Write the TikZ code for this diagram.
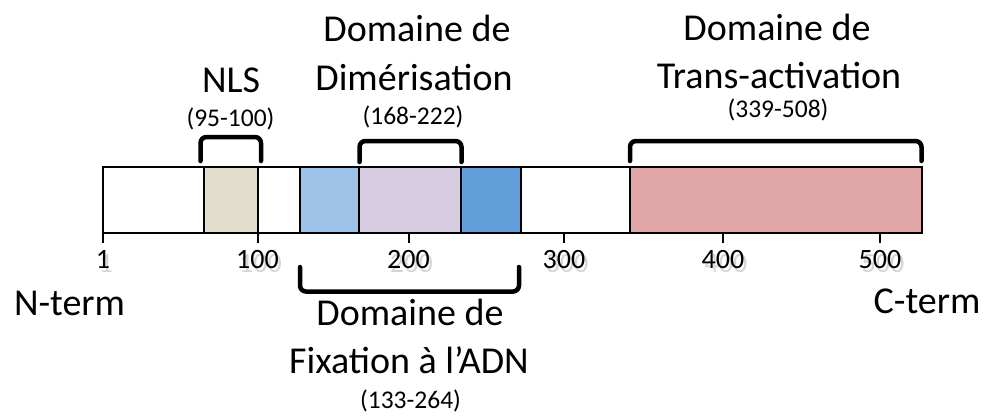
\documentclass[tikz,border=0pt]{standalone}
\usepackage{fontspec}
\setmainfont{Carlito}
\begin{document}
\begin{tikzpicture}[x=1pt,y=-1pt,
  bigtxt/.style={font=\fontsize{38}{46}\selectfont, anchor=base, inner sep=0pt},
  rangetxt/.style={font=\fontsize{25.5}{30}\selectfont, anchor=base, inner sep=0pt},
  ticktxt/.style={font=\fontsize{28}{32}\selectfont, anchor=base, inner sep=0pt},
  tickshade/.style={ticktxt, text=black, opacity=0.16},
  seg/.style={draw=black, line width=2.3pt},
  tickmark/.style={draw=black, line width=2pt},
  brace/.style={draw=black, line width=4.5pt, rounded corners=6pt, line cap=round}
]
\definecolor{nlsfill}{RGB}{225,223,203}
\definecolor{dnafillA}{RGB}{159,195,232}
\definecolor{dimfill}{RGB}{215,205,227}
\definecolor{dnafillB}{RGB}{99,159,219}
\definecolor{transfill}{RGB}{225,167,167}

\useasboundingbox (0,0) rectangle (990,418);

% protein bar, segment by segment
\path[fill=white]     (103,167) rectangle (204,233);
\path[fill=nlsfill]   (204,167) rectangle (258,233);
\path[fill=white]     (258,167) rectangle (300,233);
\path[fill=dnafillA]  (300,167) rectangle (359,233);
\path[fill=dimfill]   (359,167) rectangle (461,233);
\path[fill=dnafillB]  (461,167) rectangle (521,233);
\path[fill=white]     (521,167) rectangle (630,233);
\path[fill=transfill] (630,167) rectangle (922,233);
\draw[seg] (103,167) rectangle (922,233);
\foreach \xd in {204,258,300,359,461,521,630}
  \draw[seg] (\xd,167) -- (\xd,233);

% scale ticks and labels, each number with a light drop shadow
\foreach \xt/\lab [count=\i] in {103/1,257.5/100,408.5/200,564/300,723/400,880/500}{
  \draw[tickmark] (\xt,233) -- (\xt,243);
  \node[tickshade] (shade\i) at (\xt+3,272) {\lab};
  \node[ticktxt] (tick\i) at (\xt,268) {\lab};
}

% brackets above the bar
\coordinate (nlsA) at (200.5,161); \coordinate (nlsB) at (261,161);
\draw[brace] (nlsA) -- (200.5,137) -- (261,137) -- (nlsB);
\coordinate (dimA) at (359.5,162); \coordinate (dimB) at (461.5,162);
\draw[brace] (dimA) -- (359.5,141) -- (461.5,141) -- (dimB);
\coordinate (trA) at (630,161); \coordinate (trB) at (921.5,161);
\draw[brace] (trA) -- (630,141) -- (921.5,141) -- (trB);
% bracket below the bar
\coordinate (dnaA) at (300,267); \coordinate (dnaB) at (519,267);
\draw[brace] (dnaA) -- (300,291.5) -- (519,291.5) -- (dnaB);

% labels
\node[bigtxt] (nls) at (231,92.5) {NLS};
\node[rangetxt] (nlsr) at (230.5,126) {(95-100)};

\node[bigtxt] (dim1) at (417,41.5) {Domaine de};
\node[bigtxt] (dim2) at (414,90) {Dimérisation};
\node[rangetxt] (dimr) at (413,124) {(168-222)};

\node[bigtxt] (tr1) at (777,40) {Domaine de};
\node[bigtxt] (tr2) at (779,88.5) {Trans-activation};
\node[rangetxt] (trr) at (778,117) {(339-508)};

\node[bigtxt] (dna1) at (410,325) {Domaine de};
\node[bigtxt] (dna2) at (409,373) {Fixation à l’ADN};
\node[rangetxt] (dnar) at (410.5,408) {(133-264)};

\node[bigtxt] (nterm) at (69.5,315) {N-term};
\node[bigtxt] (cterm) at (927,313) {C-term};
\end{tikzpicture}
\end{document}
